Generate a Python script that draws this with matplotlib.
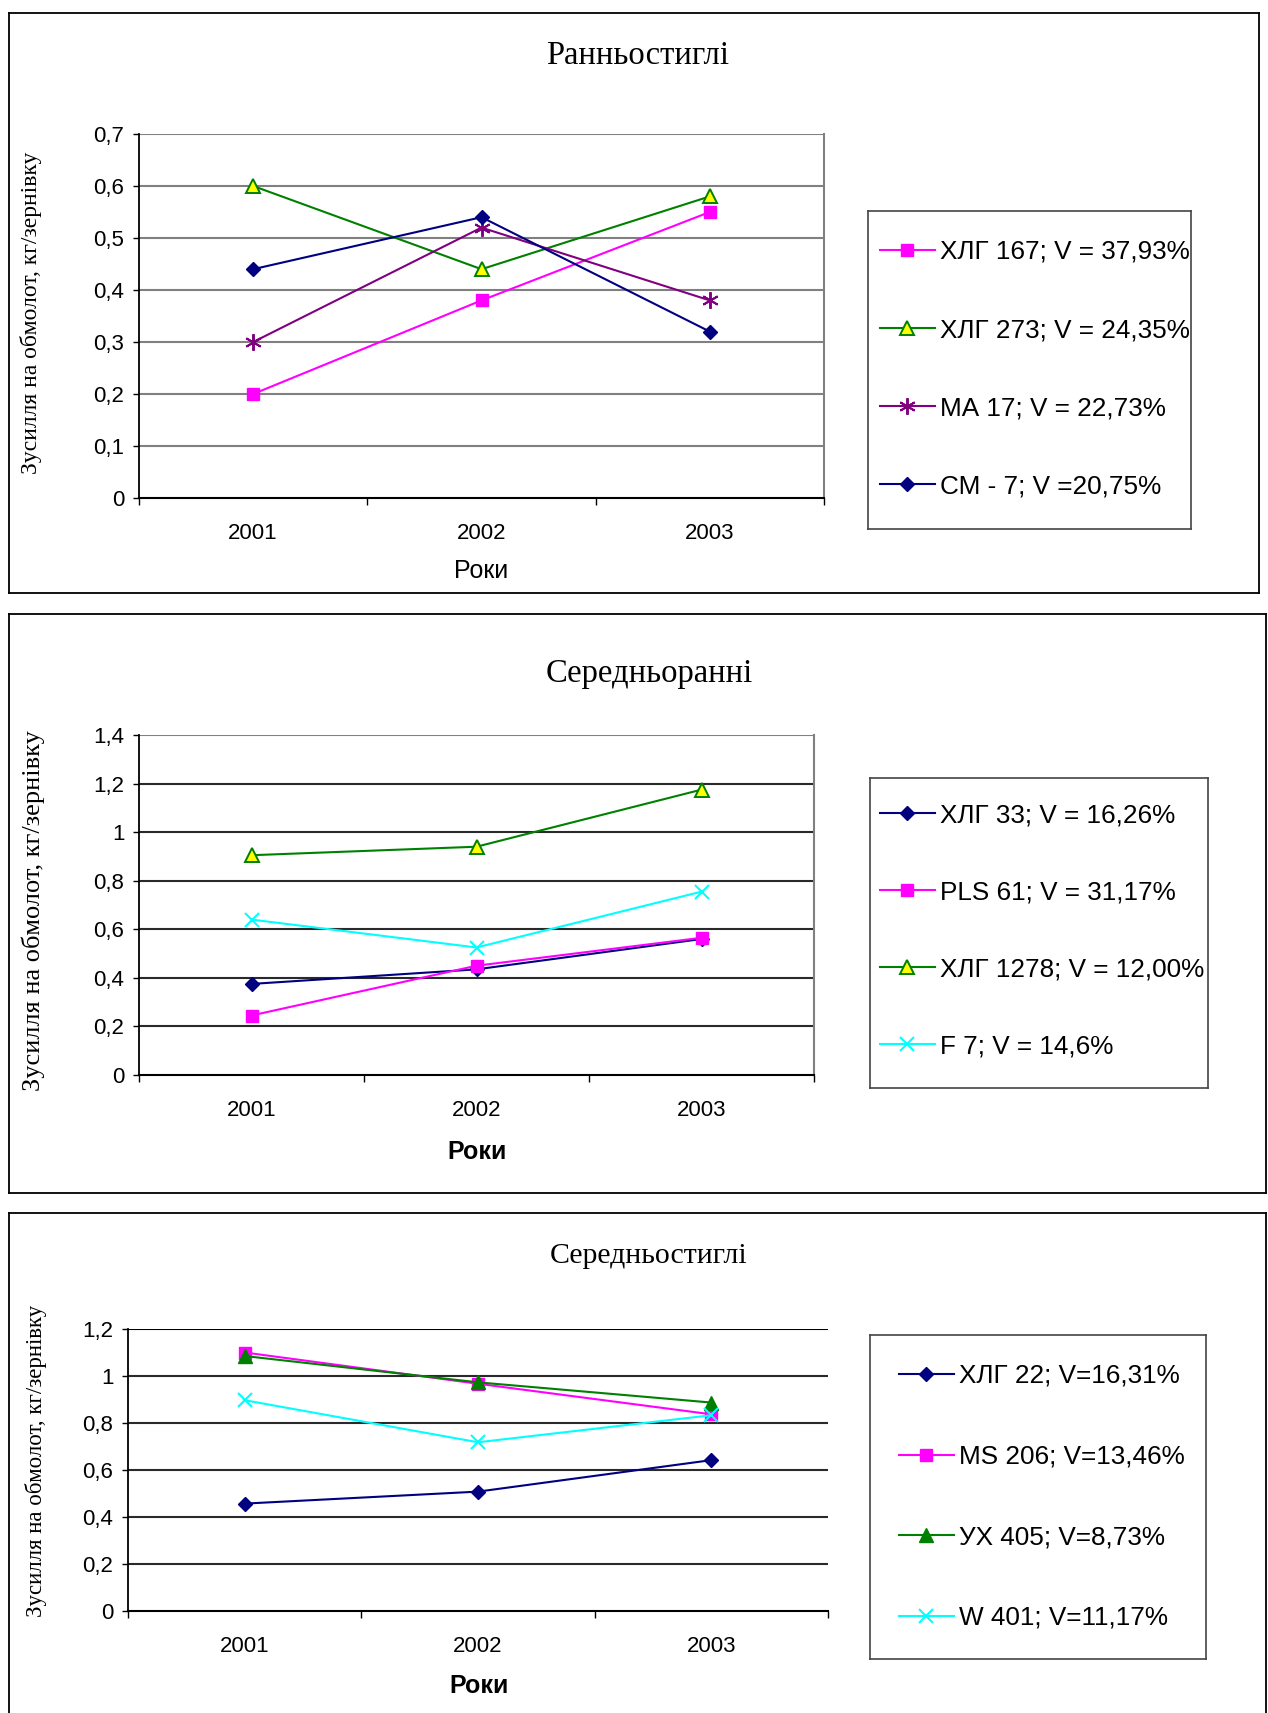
import matplotlib
matplotlib.use("Agg")
import matplotlib.pyplot as plt
from matplotlib.lines import Line2D
from matplotlib.ticker import FuncFormatter, FixedLocator

# ---- data -------------------------------------------------------------
years = ["2001", "2002", "2003"]

# Ранньостиглі
early_labels = ["ХЛГ 167; V = 37,93%", "ХЛГ 273; V = 24,35%",
                "МА 17; V = 22,73%", "СМ - 7; V =20,75%"]
early_hlg167 = [0.20, 0.38, 0.55]
early_hlg273 = [0.60, 0.44, 0.58]
early_ma17 = [0.30, 0.52, 0.38]
early_cm7 = [0.44, 0.54, 0.32]

# Середньоранні
mid_early_labels = ["ХЛГ 33; V = 16,26%", "PLS 61; V = 31,17%",
                    "ХЛГ 1278; V = 12,00%", "F 7; V = 14,6%"]
mid_early_hlg33 = [0.375, 0.435, 0.56]
mid_early_pls61 = [0.245, 0.45, 0.565]
mid_early_hlg1278 = [0.905, 0.94, 1.175]
mid_early_f7 = [0.64, 0.525, 0.755]

# Середньостиглі
mid_late_labels = ["ХЛГ 22; V=16,31%", "MS 206; V=13,46%",
                   "УХ 405; V=8,73%", "W 401; V=11,17%"]
mid_late_hlg22 = [0.457, 0.508, 0.642]
mid_late_ms206 = [1.10, 0.967, 0.837]
mid_late_ux405 = [1.085, 0.973, 0.887]
mid_late_w401 = [0.897, 0.718, 0.833]

titles = ["Ранньостиглі", "Середньоранні", "Середньостиглі"]
ylabel_text = "Зусилля на обмолот, кг/зернівку"
xlabel_text = "Роки"

# ---- styles -----------------------------------------------------------
NAVY, MAGENTA, GREEN, PURPLE, CYAN, YELLOW = (
    "#000080", "#FF00FF", "#008000", "#800080", "#00FFFF", "#FFFF00")

sty_square = dict(color=MAGENTA, marker="s", markersize=8.5, mfc=MAGENTA, mec=MAGENTA)
sty_tri_y = dict(color=GREEN, marker="^", markersize=10, mfc=YELLOW, mec=GREEN, mew=1.4)
sty_tri_g = dict(color=GREEN, marker="^", markersize=10, mfc=GREEN, mec=GREEN)
sty_star = dict(color=PURPLE, marker=(6, 2, 0), markersize=12, mec=PURPLE, mew=1.4)
sty_diam = dict(color=NAVY, marker="D", markersize=7.5, mfc=NAVY, mec=NAVY)
sty_x = dict(color=CYAN, marker="x", markersize=10.5, mec=CYAN, mew=1.5)

W, H = 1268, 1713
fig = plt.figure(figsize=(W / 100, H / 100), dpi=100)
fig.patch.set_facecolor("white")

SANS = ["Liberation Sans", "DejaVu Sans"]
SERIF = ["Liberation Serif", "DejaVu Serif"]


def fx(px):
    return px / W


def fy(py):
    return 1 - py / H


def comma_fmt(v, _pos):
    s = "%g" % round(v, 3)
    return s.replace(".", ",")


def frame_box(x0, y0, x1, y1, color="#000000", lw=1.2, sides="ltrb"):
    pts = {"l": ([x0, x0], [y0, y1]), "r": ([x1, x1], [y0, y1]),
           "t": ([x0, x1], [y0, y0]), "b": ([x0, x1], [y1, y1])}
    for s in sides:
        xs, ys = pts[s]
        fig.add_artist(Line2D([fx(v) for v in xs], [fy(v) for v in ys],
                              color=color, lw=lw, transform=fig.transFigure))


def make_panel(box, ax_px, ymax, ystep, series, labels, grid_color, top_color,
               right_spine, title_xy, title_size, ylab_xy, ylab_size, xlab_xy,
               xlab_bold, leg_box, leg_anchor, leg_spacing):
    # outer panel border
    bx0, by0, bx1, by1, sides = box
    frame_box(bx0, by0, bx1, by1, color="#000000", lw=1.3, sides=sides)

    l, r, t, b = ax_px
    ax = fig.add_axes([fx(l), fy(b), fx(r) - fx(l), fy(t) - fy(b)])
    x = [1, 2, 3]
    handles = []
    for vals, sty in series:
        h, = ax.plot(x, vals, lw=1.5, clip_on=False, zorder=3, **sty)
        handles.append(h)

    ax.set_xlim(0.5, 3.5)
    ax.set_ylim(0, ymax)
    yt = [round(i * ystep, 3) for i in range(int(round(ymax / ystep)) + 1)]
    ax.yaxis.set_major_locator(FixedLocator(yt))
    ax.yaxis.set_major_formatter(FuncFormatter(comma_fmt))
    ax.set_xticks(x)
    ax.set_xticklabels(years)
    ax.set_xticks([0.5, 1.5, 2.5, 3.5], minor=True)
    ax.tick_params(axis="x", which="major", length=0, pad=18,
                   labelsize=16)
    ax.tick_params(axis="x", which="minor", length=5, width=1.0,
                   direction="out", color="#000000")
    ax.tick_params(axis="y", length=4.5, width=1.0, direction="out",
                   pad=6, labelsize=16)
    for lab in ax.get_xticklabels() + ax.get_yticklabels():
        lab.set_fontfamily(SANS)

    for v in yt[1:]:
        c = top_color if v == yt[-1] else grid_color
        ax.axhline(v, color=c, lw=1.5, zorder=1)
    ax.spines["top"].set_visible(False)
    ax.spines["right"].set_visible(right_spine)
    ax.spines["right"].set_color(top_color)
    ax.spines["right"].set_linewidth(1.5)
    ax.spines["left"].set_linewidth(1.3)
    ax.spines["bottom"].set_linewidth(1.5)

    fig.text(fx(title_xy[0]), fy(title_xy[1]), title_xy[2], ha="center",
             va="center", fontsize=title_size, family=SERIF)
    fig.text(fx(ylab_xy[0]), fy(ylab_xy[1]), ylabel_text, rotation=90,
             ha="center", va="center", fontsize=ylab_size, family=SERIF)
    fig.text(fx(xlab_xy[0]), fy(xlab_xy[1]), xlabel_text, ha="center",
             va="center", fontsize=18, family=SANS,
             fontweight="bold" if xlab_bold else "normal")

    # legend with a separately drawn frame
    lx0, ly0, lx1, ly1 = leg_box
    frame_box(lx0, ly0, lx1, ly1, color="#444444", lw=1.2)
    fig.legend(handles, labels, loc="upper left",
               bbox_to_anchor=(fx(leg_anchor[0]), fy(leg_anchor[1])),
               bbox_transform=fig.transFigure, frameon=False, borderpad=0,
               borderaxespad=0, handlelength=2.1, handletextpad=0.2,
               labelspacing=leg_spacing, numpoints=1,
               prop={"family": SANS, "size": 18.8})
    return ax


make_panel(
    box=(9, 13, 1259, 593, "ltrb"),
    ax_px=(139, 824, 134, 498), ymax=0.7, ystep=0.1,
    series=[(early_hlg167, sty_square), (early_hlg273, sty_tri_y),
            (early_ma17, sty_star), (early_cm7, sty_diam)],
    labels=early_labels, grid_color="#808080", top_color="#808080",
    right_spine=True, title_xy=(638, 56, titles[0]), title_size=23.5,
    ylab_xy=(31, 313), ylab_size=17, xlab_xy=(481, 571), xlab_bold=False,
    leg_box=(868, 211, 1191, 529), leg_anchor=(880, 240), leg_spacing=2.07)

make_panel(
    box=(9, 614, 1266, 1193, "ltrb"),
    ax_px=(139, 814, 735, 1075), ymax=1.4, ystep=0.2,
    series=[(mid_early_hlg33, sty_diam), (mid_early_pls61, sty_square),
            (mid_early_hlg1278, sty_tri_y), (mid_early_f7, sty_x)],
    labels=mid_early_labels, grid_color="#2a2a2a", top_color="#808080",
    right_spine=True, title_xy=(649, 674, titles[1]), title_size=23.5,
    ylab_xy=(33, 911), ylab_size=19, xlab_xy=(477, 1152), xlab_bold=True,
    leg_box=(870, 778, 1208, 1088), leg_anchor=(880, 803), leg_spacing=2.03)

make_panel(
    box=(9, 1213, 1266, 1760, "ltr"),
    ax_px=(128, 828, 1329, 1611), ymax=1.2, ystep=0.2,
    series=[(mid_late_hlg22, sty_diam), (mid_late_ms206, sty_square),
            (mid_late_ux405, sty_tri_g), (mid_late_w401, sty_x)],
    labels=mid_late_labels, grid_color="#2a2a2a", top_color="#000000",
    right_spine=False, title_xy=(649, 1256, titles[2]), title_size=21.5,
    ylab_xy=(36, 1461), ylab_size=16.5, xlab_xy=(479, 1686), xlab_bold=True,
    leg_box=(870, 1335, 1206, 1659), leg_anchor=(899, 1364), leg_spacing=2.17)

fig.savefig("out.png", dpi=100, facecolor="white")
